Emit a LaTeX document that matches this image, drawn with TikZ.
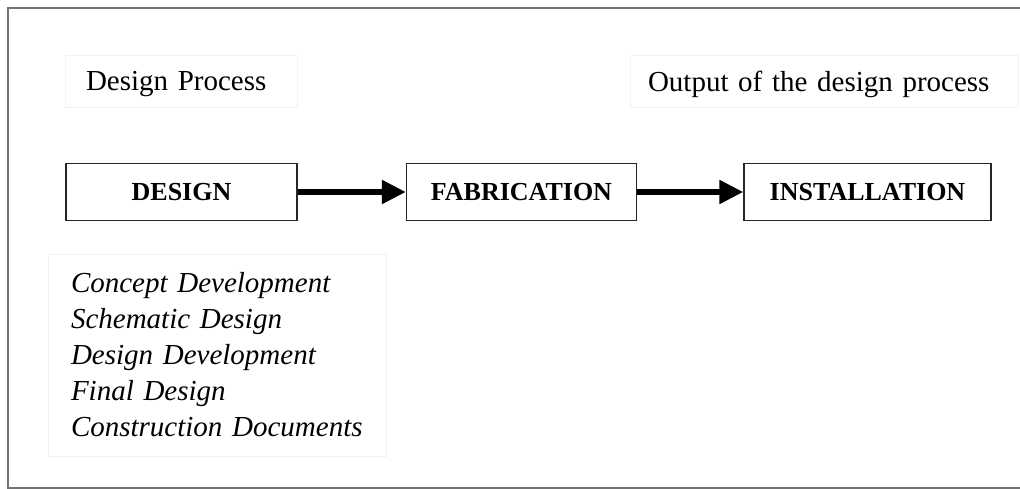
\documentclass[tikz,border=0pt]{standalone}
\usepackage{fontspec}
\setmainfont{Liberation Serif}
\usetikzlibrary{arrows.meta,positioning}

\begin{document}
\begin{tikzpicture}[x=1pt,y=-1pt,>={Triangle[length=24pt,width=23pt]},
        node distance=108pt,
        stage/.style={draw=black!85,line width=1.5pt,minimum width=231pt,
          minimum height=57pt,font=\fontsize{26}{31}\selectfont\bfseries},
        caption/.style={draw=black!5,minimum height=52pt,text depth=0pt,
          align=left,font=\fontsize{29}{35}\selectfont},
        flow/.style={->,line width=5.5pt}]

  \useasboundingbox (0,0) rectangle (1020,489);
  \draw[black!55,line width=2pt] (1030,8) -- (8,8) -- (8,488) -- (1030,488);

  \node[caption,text width=190pt,inner xsep=21pt] (process) at (181,81) {Design Process};
  \node[caption,text width=352pt,inner xsep=18pt] (output) at (824,81) {Output of the design process};

  \node[stage] (design) at (181.5,192) {DESIGN};
  \node[stage,minimum width=230pt] (fabrication) [right=of design] {FABRICATION};
  \node[stage,minimum width=247pt] (installation) [right=106pt of fabrication] {INSTALLATION};

  \draw[flow] (design) -- (fabrication);
  \draw[flow] (fabrication) -- (installation);

  \node[draw=black!5,text width=292pt,inner xsep=23pt,minimum height=202pt,
        align=left,font=\fontsize{29}{36}\selectfont\itshape] (phases) at (217,355)
    {Concept Development\\ Schematic Design\\ Design Development\\
     Final Design\\ Construction Documents};

\end{tikzpicture}
\end{document}
